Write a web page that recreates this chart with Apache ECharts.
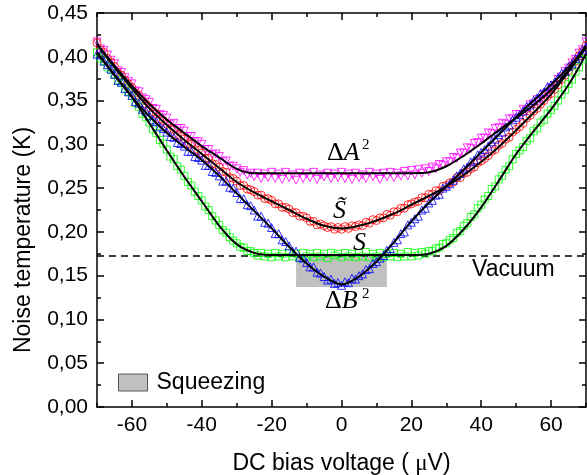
<!DOCTYPE html>
<html><head><meta charset="utf-8">
<script src="https://cdn.jsdelivr.net/npm/echarts@6/dist/echarts.min.js"></script>
<style>html,body{margin:0;padding:0;background:#fff}#c{width:587px;height:475px}</style>
</head><body><div id="c"></div>
<script>
// ---- data ----
const voltage = [-70,-69,-68,-67,-66,-65,-64,-63,-62,-61,-60,-59,-58,-57,-56,-55,-54,-53,-52,-51,-50,-49,-48,-47,-46,-45,-44,-43,-42,-41,-40,-39,-38,-37,-36,-35,-34,-33,-32,-31,-30,-29,-28,-27,-26,-25,-24,-23,-22,-21,-20,-19,-18,-17,-16,-15,-14,-13,-12,-11,-10,-9,-8,-7,-6,-5,-4,-3,-2,-1,0,1,2,3,4,5,6,7,8,9,10,11,12,13,14,15,16,17,18,19,20,21,22,23,24,25,26,27,28,29,30,31,32,33,34,35,36,37,38,39,40,41,42,43,44,45,46,47,48,49,50,51,52,53,54,55,56,57,58,59,60,61,62,63,64,65,66,67,68,69,70];

const deltaA2 = [
.417,.409,.407,.402,.396,.392,.384,.382,.376,.372,
.369,.361,.360,.353,.351,.348,.341,.340,.334,.333,
.330,.323,.324,.318,.318,.315,.309,.309,.303,.303,
.300,.294,.294,.288,.289,.286,.280,.281,.275,.275,
.272,.268,.270,.265,.267,.263,.267,.261,.266,.262,
.268,.261,.266,.260,.268,.262,.265,.259,.267,.261,
.266,.262,.268,.260,.265,.263,.267,.261,.266,.262,
.268,.261,.266,.260,.267,.262,.265,.261,.268,.263,
.266,.260,.267,.263,.268,.262,.267,.264,.269,.264,
.270,.265,.271,.267,.272,.269,.274,.272,.277,.276,
.280,.280,.285,.284,.290,.290,.296,.295,.301,.302,
.307,.307,.313,.312,.318,.319,.324,.323,.329,.329,
.334,.334,.340,.339,.345,.346,.351,.350,.357,.358,
.364,.367,.374,.377,.383,.387,.393,.397,.404,.408,
.417];

const sTilde = [
.416,.408,.405,.398,.394,.389,.382,.379,.373,.369,
.365,.359,.356,.350,.346,.342,.337,.335,.329,.327,
.323,.318,.317,.311,.309,.306,.301,.300,.294,.293,
.290,.284,.284,.278,.277,.274,.269,.268,.262,.261,
.258,.253,.253,.249,.248,.246,.242,.242,.238,.238,
.236,.232,.232,.228,.228,.226,.222,.222,.218,.218,
.216,.212,.212,.208,.209,.207,.205,.206,.203,.205,
.203,.206,.204,.207,.206,.208,.207,.211,.210,.214,
.213,.216,.216,.220,.219,.223,.223,.227,.227,.231,
.232,.234,.235,.239,.239,.243,.243,.247,.247,.252,
.253,.256,.257,.262,.262,.267,.268,.272,.274,.279,
.281,.284,.287,.292,.294,.299,.301,.306,.308,.314,
.317,.320,.324,.330,.333,.338,.341,.346,.350,.355,
.358,.363,.368,.374,.379,.384,.390,.395,.401,.406,
.413];

const sValue = [
.405,.398,.395,.388,.385,.380,.373,.370,.363,.360,
.355,.347,.343,.335,.331,.325,.317,.313,.305,.301,
.294,.286,.283,.275,.271,.264,.257,.253,.246,.241,
.236,.229,.225,.218,.213,.208,.202,.199,.194,.190,
.187,.183,.182,.178,.178,.176,.173,.176,.172,.175,
.171,.176,.172,.175,.171,.176,.172,.175,.170,.176,
.172,.175,.171,.176,.172,.175,.170,.176,.173,.175,
.171,.176,.172,.175,.171,.176,.172,.177,.171,.175,
.172,.176,.171,.175,.172,.176,.171,.175,.172,.177,
.172,.176,.173,.177,.175,.178,.178,.181,.182,.186,
.187,.191,.193,.199,.201,.207,.210,.217,.220,.227,
.231,.237,.241,.249,.252,.260,.264,.271,.275,.283,
.289,.293,.297,.304,.307,.315,.318,.325,.328,.335,
.339,.344,.350,.357,.362,.369,.374,.383,.388,.397,
.404];

const deltaB2 = [
.403,.402,.395,.391,.386,.380,.373,.371,.364,.360,
.356,.349,.347,.340,.338,.333,.328,.326,.320,.318,
.314,.309,.308,.302,.301,.298,.292,.292,.286,.285,
.282,.276,.276,.269,.268,.264,.258,.258,.251,.250,
.245,.238,.238,.231,.230,.225,.218,.218,.211,.210,
.205,.198,.198,.191,.189,.184,.178,.178,.171,.170,
.165,.160,.160,.154,.153,.149,.145,.146,.141,.142,
.139,.143,.142,.147,.146,.150,.152,.157,.158,.164,
.166,.170,.173,.179,.181,.188,.191,.198,.200,.208,
.211,.215,.218,.225,.227,.233,.236,.242,.243,.250,
.252,.255,.259,.264,.267,.272,.274,.280,.282,.288,
.291,.294,.298,.303,.306,.311,.314,.320,.322,.328,
.331,.334,.338,.343,.345,.350,.353,.358,.360,.366,
.368,.371,.376,.381,.383,.389,.392,.398,.401,.408,
.411];

const fitVoltage = [-70,-65,-60,-55,-50,-45,-40,-35,-30,-25,-20,-15,-10,-5,0,5,10,15,20,25,30,35,40,45,50,55,60,65,70];
const fitDeltaA2 = [.415,.390,.367,.346,.328,.313,.298,.285,.272,.267,.267,.267,.267,.267,.267,.267,.267,.267,.267,.268,.275,.287,.301,.316,.330,.345,.362,.385,.413];
const fitSTilde  = [.414,.388,.364,.341,.322,.305,.289,.273,.257,.245,.235,.225,.215,.207,.204,.207,.213,.221,.231,.241,.252,.265,.280,.297,.316,.336,.357,.383,.411];
const fitS       = [.404,.379,.354,.324,.293,.263,.235,.207,.186,.176,.1735,.1735,.1735,.1735,.1735,.1735,.1735,.1735,.1735,.175,.184,.203,.228,.258,.289,.315,.340,.368,.403];
const fitDeltaB2 = [.405,.379,.354,.332,.313,.297,.282,.264,.244,.224,.204,.183,.164,.149,.140,.149,.166,.188,.212,.233,.252,.271,.291,.311,.331,.350,.368,.388,.410];

const vacuumX = [-70, 70];
const vacuumLevel = 0.1725;
const squeezeX = [-13, 13];
const squeezeY = [0.137, 0.1725];

const xMajorTicks = [-60,-40,-20,0,20,40,60];
const xMinorTicks = [-70,-50,-30,-10,10,30,50,70];

// ---- chart ----
const pairs = (xs, ys) => xs.map((x, i) => [x, ys[i]]);
const SANS = 'Liberation Sans';
const SERIF = 'Liberation Serif';
const black = '#000';

function markers(name, ys, symbol, size, color, rotate) {
  return {type:'scatter', name, data: pairs(voltage, ys), symbol, symbolSize: size, symbolRotate: rotate || 0,
    itemStyle:{color:'rgba(0,0,0,0)', borderColor: color, borderWidth: 1}, silent:true, z:3, animation:false};
}
function fit(name, ys) {
  return {type:'line', name, data: pairs(fitVoltage, ys), smooth:0.3, symbol:'none', showSymbol:false,
    lineStyle:{color:black, width:2}, z:5, silent:true, animation:false};
}
function xAxisDef(pos, ticks, len, showLine, labels, extra) {
  return Object.assign({type:'value', min:-70, max:70, position:pos,
    axisLine:{show:showLine, onZero:false, lineStyle:{color:black, width:1.5}},
    axisTick:{show:true, inside:true, length:len, customValues:ticks, lineStyle:{color:black, width:1.5}},
    axisLabel: labels ? {customValues:ticks, fontSize:21, fontFamily:SANS, color:black, margin:8} : {show:false},
    splitLine:{show:false}}, extra || {});
}
function yAxisDef(pos, labels, extra) {
  return Object.assign({type:'value', min:0, max:0.45, interval:0.05, position:pos,
    axisLine:{show:true, onZero:false, lineStyle:{color:black, width:1.5}},
    axisTick:{show:true, inside:true, length:7, lineStyle:{color:black, width:1.5}},
    minorTick:{show:true, splitNumber:2, length:4, lineStyle:{color:black, width:1.5}},
    axisLabel: labels ? {fontSize:21, fontFamily:SANS, color:black, margin:9,
      formatter: v => v.toFixed(2).replace('.', ',')} : {show:false},
    splitLine:{show:false}, minorSplitLine:{show:false}}, extra || {});
}

const chart = echarts.init(document.getElementById('c'));
chart.setOption({
  animation:false,
  backgroundColor:'#fff',
  grid:{left:97, right:1, top:13, bottom:68, containLabel:false, outerBoundsMode:'none'},
  xAxis:[
    xAxisDef('bottom', xMajorTicks, 7, true, true, {
      name:'DC bias voltage ( {mu|μ}V)', nameLocation:'middle', nameGap:45,
      nameTextStyle:{fontSize:23, fontFamily:SANS, color:black, rich:{mu:{fontFamily:SERIF, fontSize:23, color:black}}}}),
    xAxisDef('bottom', xMinorTicks, 4, false, false),
    xAxisDef('top', xMajorTicks, 7, true, false),
    xAxisDef('top', xMinorTicks, 4, false, false)
  ],
  yAxis:[
    yAxisDef('left', true, {name:'Noise temperature (K)', nameLocation:'middle', nameGap:62,
      nameTextStyle:{fontSize:23, fontFamily:SANS, color:black, padding:[0,60,0,0]}}),
    yAxisDef('right', false)
  ],
  legend:{left:118, top:371, padding:0, itemWidth:29, itemHeight:17, icon:'rect', selectedMode:false,
    data:[{name:'Squeezing', itemStyle:{color:'#c0c0c0', borderColor:'#555', borderWidth:1}}],
    textStyle:{fontFamily:SANS, fontSize:23, color:black, padding:[0,0,0,4]}},
  series:[
    {type:'line', name:'Squeezing', data:[], symbol:'none', itemStyle:{color:'#c0c0c0'}, lineStyle:{width:0}, z:1,
      markArea:{silent:true, label:{show:false}, itemStyle:{color:'#c0c0c0'},
        data:[[{coord:[squeezeX[0], squeezeY[0]]},{coord:[squeezeX[1], squeezeY[1]]}]]}},
    {type:'line', name:'Vacuum', data: vacuumX.map(x => [x, vacuumLevel]), symbol:'none', silent:true, z:2,
      lineStyle:{color:black, width:1.5, type:[7,5]}},
    markers('ΔA²', deltaA2, 'triangle', 8, '#ff00ff', 180),
    markers('S̃', sTilde, 'circle', 8, '#ff0000'),
    markers('S', sValue, 'rect', 7, '#00ff00'),
    markers('ΔB²', deltaB2, 'triangle', 8, '#0000ff'),
    fit('fit ΔA²', fitDeltaA2),
    fit('fit S̃', fitSTilde),
    fit('fit S', fitS),
    fit('fit ΔB²', fitDeltaB2)
  ],
  graphic:[
    {type:'text', x:327, y:153.5, z:10, style:{text:'{d|Δ}{i|A}', verticalAlign:'middle', fill:black,
      rich:{d:{fontFamily:SERIF, fontSize:26, fill:black}, i:{fontFamily:SERIF, fontStyle:'italic', fontSize:26, fill:black}}}},
    {type:'text', x:362, y:145, z:10, style:{text:'2', fontFamily:SERIF, fontSize:15, fill:black, verticalAlign:'middle'}},
    {type:'text', x:333, y:211.5, z:10, style:{text:'S\u0303', fontFamily:SERIF, fontStyle:'italic', fontSize:26, fill:black, verticalAlign:'middle'}},
    {type:'text', x:353, y:243.5, z:10, style:{text:'S', fontFamily:SERIF, fontStyle:'italic', fontSize:26, fill:black, verticalAlign:'middle'}},
    {type:'text', x:325, y:301.5, z:10, style:{text:'{d|Δ}{i|B}', verticalAlign:'middle', fill:black,
      rich:{d:{fontFamily:SERIF, fontSize:26, fill:black}, i:{fontFamily:SERIF, fontStyle:'italic', fontSize:26, fill:black}}}},
    {type:'text', x:362, y:294.5, z:10, style:{text:'2', fontFamily:SERIF, fontSize:15, fill:black, verticalAlign:'middle'}},
    {type:'text', x:472, y:270, z:10, style:{text:'Vacuum', fontFamily:SANS, fontSize:23, fill:black, verticalAlign:'middle'}}
  ]
});
</script>
</body></html>
